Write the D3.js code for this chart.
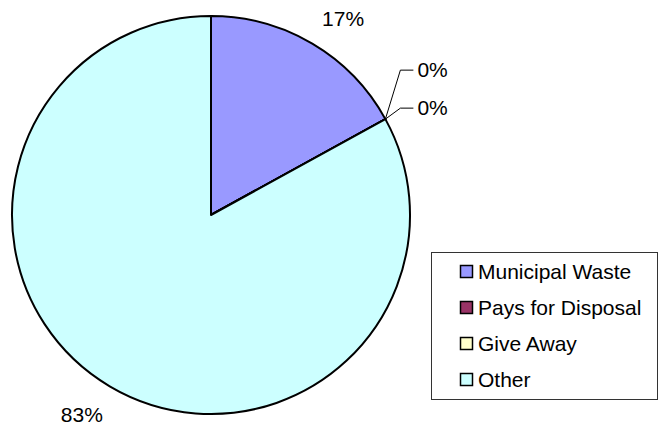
<!DOCTYPE html>
<html>
<head>
<meta charset="utf-8">
<script src="https://cdn.jsdelivr.net/npm/d3@7/dist/d3.min.js"></script>
<style>
  html, body { margin: 0; padding: 0; background: #fff; }
  svg { display: block; }
  text { font-family: "Liberation Sans", Arial, sans-serif; fill: #000; }
</style>
</head>
<body>
<svg id="chart" width="660" height="430"></svg>
<script>
// Disposal method shares (percent)
const categories = ["Municipal Waste", "Pays for Disposal", "Give Away", "Other"];
const values = [17, 0, 0, 83];
const colors = ["#9999FF", "#993366", "#FFFFCC", "#CCFFFF"];

const svg = d3.select("#chart");
const cx = 211, cy = 215, radius = 199;
const fontSize = 21;

const pie = d3.pie().sort(null).value(d => d.value);
const data = categories.map((c, i) => ({ name: c, value: values[i], color: colors[i] }));
const arcs = pie(data);
const total = d3.sum(values);
const arc = d3.arc().innerRadius(0).outerRadius(radius);

const g = svg.append("g").attr("transform", `translate(${cx},${cy})`);

g.selectAll("path.slice")
  .data(arcs)
  .join("path")
  .attr("class", "slice")
  .attr("d", arc)
  .attr("fill", d => d.data.color)
  .attr("stroke", "#000")
  .attr("stroke-width", 2)
  .attr("stroke-linejoin", "round");

const fmt = v => Math.round(v / total * 100) + "%";

// Labels for non-empty slices sit just outside the rim
const labelR = radius + 37;
arcs.filter(d => d.value > 0).forEach(d => {
  const a = (d.startAngle + d.endAngle) / 2;
  const [sx, sy] = d.index === 0 ? [12, 7] : [-9, -3];
  g.append("text")
    .attr("x", Math.sin(a) * labelR + sx)
    .attr("y", -Math.cos(a) * labelR + sy)
    .attr("dy", "0.35em")
    .attr("text-anchor", "middle")
    .attr("font-size", fontSize)
    .text(fmt(d.value));
});

// Empty slices get leader lines to stacked labels
const zeros = arcs.filter(d => d.value === 0);
zeros.forEach((d, k) => {
  const a = d.startAngle;
  const px = Math.sin(a) * radius, py = -Math.cos(a) * radius;
  const ky = py - 11 - (zeros.length - 1 - k) * 38;
  const kx = px + 15;
  g.append("path")
    .attr("d", `M${px},${py}L${kx},${ky}L${kx + 13},${ky}`)
    .attr("fill", "none")
    .attr("stroke", "#000")
    .attr("stroke-width", 1);
  g.append("text")
    .attr("x", kx + 17)
    .attr("y", ky)
    .attr("dy", "0.35em")
    .attr("font-size", fontSize)
    .text(fmt(d.value));
});

// Legend
const legend = svg.append("g").attr("transform", "translate(431,252)");
legend.append("rect")
  .attr("x", 0.5).attr("y", 0.5)
  .attr("width", 226).attr("height", 147)
  .attr("fill", "#fff")
  .attr("stroke", "#333")
  .attr("stroke-width", 1);

const rowY = d3.scalePoint().domain(categories).range([20, 128]);
const items = legend.selectAll("g.item")
  .data(data)
  .join("g")
  .attr("class", "item")
  .attr("transform", d => `translate(0,${rowY(d.name)})`);
items.append("rect")
  .attr("x", 29.5).attr("y", -6.5)
  .attr("width", 12).attr("height", 12)
  .attr("fill", d => d.color)
  .attr("stroke", "#000")
  .attr("stroke-width", 1.5);
items.append("text")
  .attr("x", 47)
  .attr("y", 0)
  .attr("dy", "0.35em")
  .attr("font-size", fontSize)
  .text(d => d.name);
</script>
</body>
</html>
